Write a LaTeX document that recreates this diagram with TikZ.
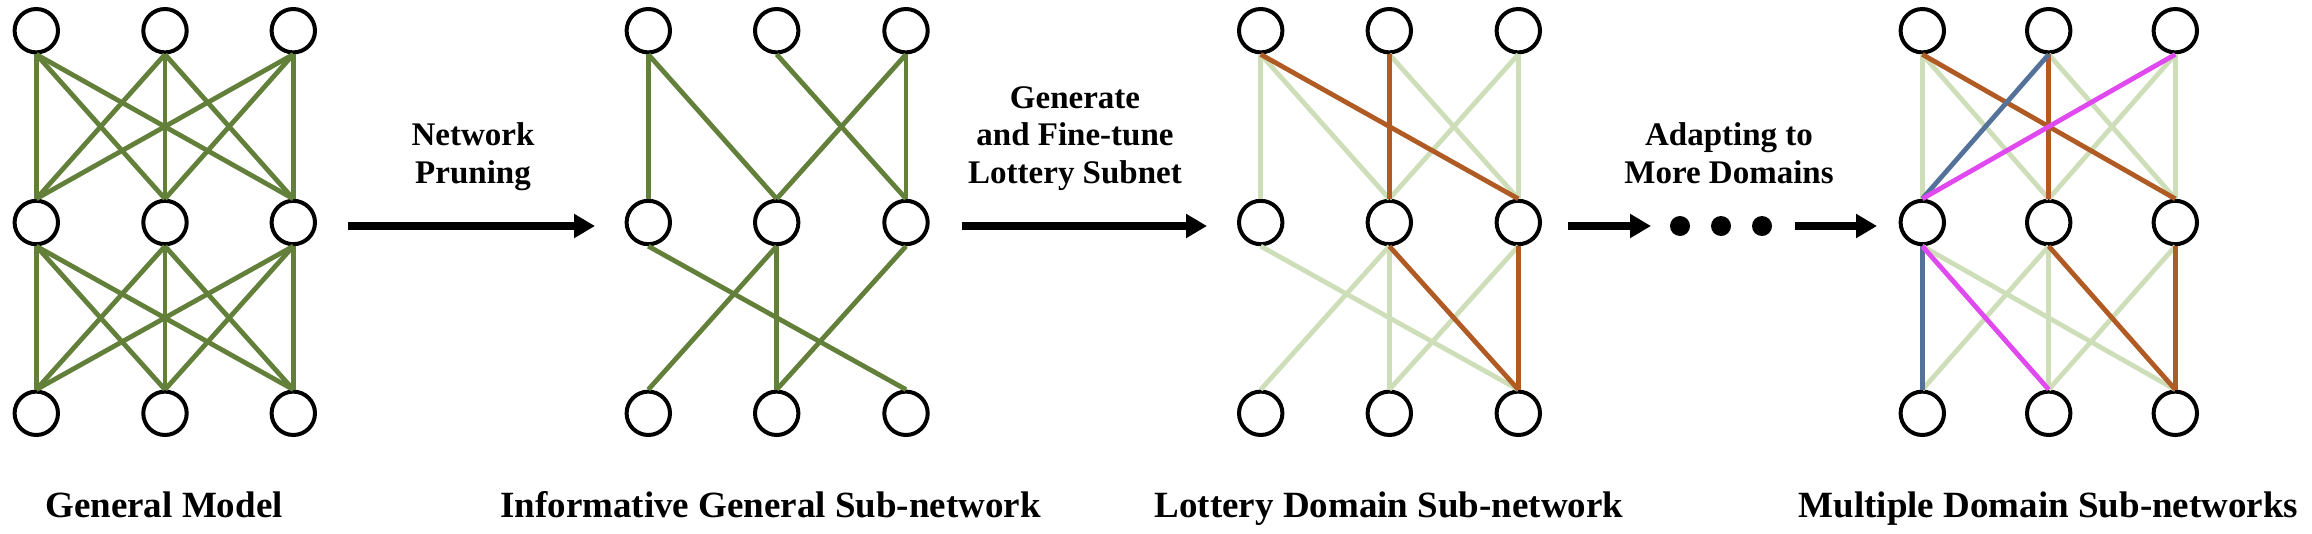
\documentclass[tikz,border=0pt]{standalone}
\usepackage{fontspec}
\setmainfont{Liberation Serif}
\usetikzlibrary{arrows.meta}
\definecolor{dkgreen}{RGB}{99,128,59}
\definecolor{ltgreen}{RGB}{205,222,185}
\definecolor{rustc}{RGB}{176,90,36}
\definecolor{slatec}{RGB}{84,114,153}
\definecolor{magc}{RGB}{224,72,240}
\begin{document}
\begin{tikzpicture}[x=1pt,y=-1pt,
  neuron/.style={circle,draw=black,line width=4pt,minimum size=43.4pt,inner sep=0pt},
  dk/.style={draw=dkgreen,line width=4.8pt},
  lt/.style={draw=ltgreen,line width=4.8pt},
  ru/.style={draw=rustc,line width=4.8pt},
  sl/.style={draw=slatec,line width=4.8pt},
  mg/.style={draw=magc,line width=4.8pt},
  bigarrow/.style={line width=7.7pt,-{Triangle[length=21pt,width=23pt]}},
  dotnode/.style={circle,fill=black,minimum size=20pt,inner sep=0pt},
  steplabel/.style={font=\fontsize{33}{37.5}\selectfont\bfseries,align=center,inner sep=0pt},
  caption/.style={font=\fontsize{37}{40}\selectfont\bfseries,inner sep=0pt,anchor=base}
]
\useasboundingbox (0,0) rectangle (2312,533);
% nodes
\foreach \net/\xa/\xb/\xc in {a/36.3/165/293.3, b/648.3/776.7/906, c/1260.7/1389.3/1518.3, d/1922.3/2048.7/2175.3}{
  \foreach \r/\y in {1/30.7, 2/222.5, 3/413.3}{
    \node[neuron] (\net\r1) at (\xa,\y) {};
    \node[neuron] (\net\r2) at (\xb,\y) {};
    \node[neuron] (\net\r3) at (\xc,\y) {};
  }
}
% network a: fully connected
\foreach \i in {1,2,3}{
  \foreach \j in {1,2,3}{
    \draw[dk] (a1\i.south) -- (a2\j.north);
    \draw[dk] (a2\i.south) -- (a3\j.north);
  }
}
% network b: pruned
\foreach \i/\j in {1/1,1/2,2/3,3/2,3/3}{\draw[dk] (b1\i.south) -- (b2\j.north);}
\foreach \i/\j in {1/3,2/1,2/2,3/2}{\draw[dk] (b2\i.south) -- (b3\j.north);}
% network c
\foreach \i/\j in {1/1,1/2,2/3,3/2,3/3}{\draw[lt] (c1\i.south) -- (c2\j.north);}
\foreach \i/\j in {1/3,2/1,2/2,3/2}{\draw[lt] (c2\i.south) -- (c3\j.north);}
\foreach \i/\j in {1/3,2/2}{\draw[ru] (c1\i.south) -- (c2\j.north);}
\foreach \i/\j in {2/3,3/3}{\draw[ru] (c2\i.south) -- (c3\j.north);}
% network d
\foreach \i/\j in {1/1,1/2,2/3,3/2,3/3}{\draw[lt] (d1\i.south) -- (d2\j.north);}
\foreach \i/\j in {1/3,2/1,2/2,3/2}{\draw[lt] (d2\i.south) -- (d3\j.north);}
\foreach \i/\j in {1/3,2/2}{\draw[ru] (d1\i.south) -- (d2\j.north);}
\foreach \i/\j in {2/3,3/3}{\draw[ru] (d2\i.south) -- (d3\j.north);}
\draw[sl] (d12.south) -- (d21.north);
\draw[sl] (d21.south) -- (d31.north);
\draw[mg] (d13.south) -- (d21.north);
\draw[mg] (d21.south) -- (d32.north);
% arrows
\coordinate (p1s) at (348,226); \coordinate (p1e) at (595,226);
\coordinate (p2s) at (962,226); \coordinate (p2e) at (1207,226);
\coordinate (p3s) at (1568,226); \coordinate (p3e) at (1651,226);
\coordinate (p4s) at (1795,226); \coordinate (p4e) at (1877,226);
\draw[bigarrow] (p1s) -- (p1e);
\draw[bigarrow] (p2s) -- (p2e);
\draw[bigarrow] (p3s) -- (p3e);
\draw[bigarrow] (p4s) -- (p4e);
\node[dotnode] (dot1) at (1680,226) {};
\node[dotnode] (dot2) at (1721,226) {};
\node[dotnode] (dot3) at (1762,226) {};
% step labels (base = baseline of last line)
\node[steplabel,anchor=base] (lab1) at (473,183) {Network\\Pruning};
\node[steplabel,anchor=base] (lab2) at (1075,183) {Generate\\and Fine-tune\\Lottery Subnet};
\node[steplabel,anchor=base] (lab3) at (1729,183) {Adapting to\\More Domains};
% captions
\node[caption] (cap1) at (164,517) {General Model};
\node[caption] (cap2) at (770.5,517) {Informative General Sub-network};
\node[caption] (cap3) at (1389,517) {Lottery Domain Sub-network};
\node[caption] (cap4) at (2048.5,517) {Multiple Domain Sub-networks};
\end{tikzpicture}
\end{document}
